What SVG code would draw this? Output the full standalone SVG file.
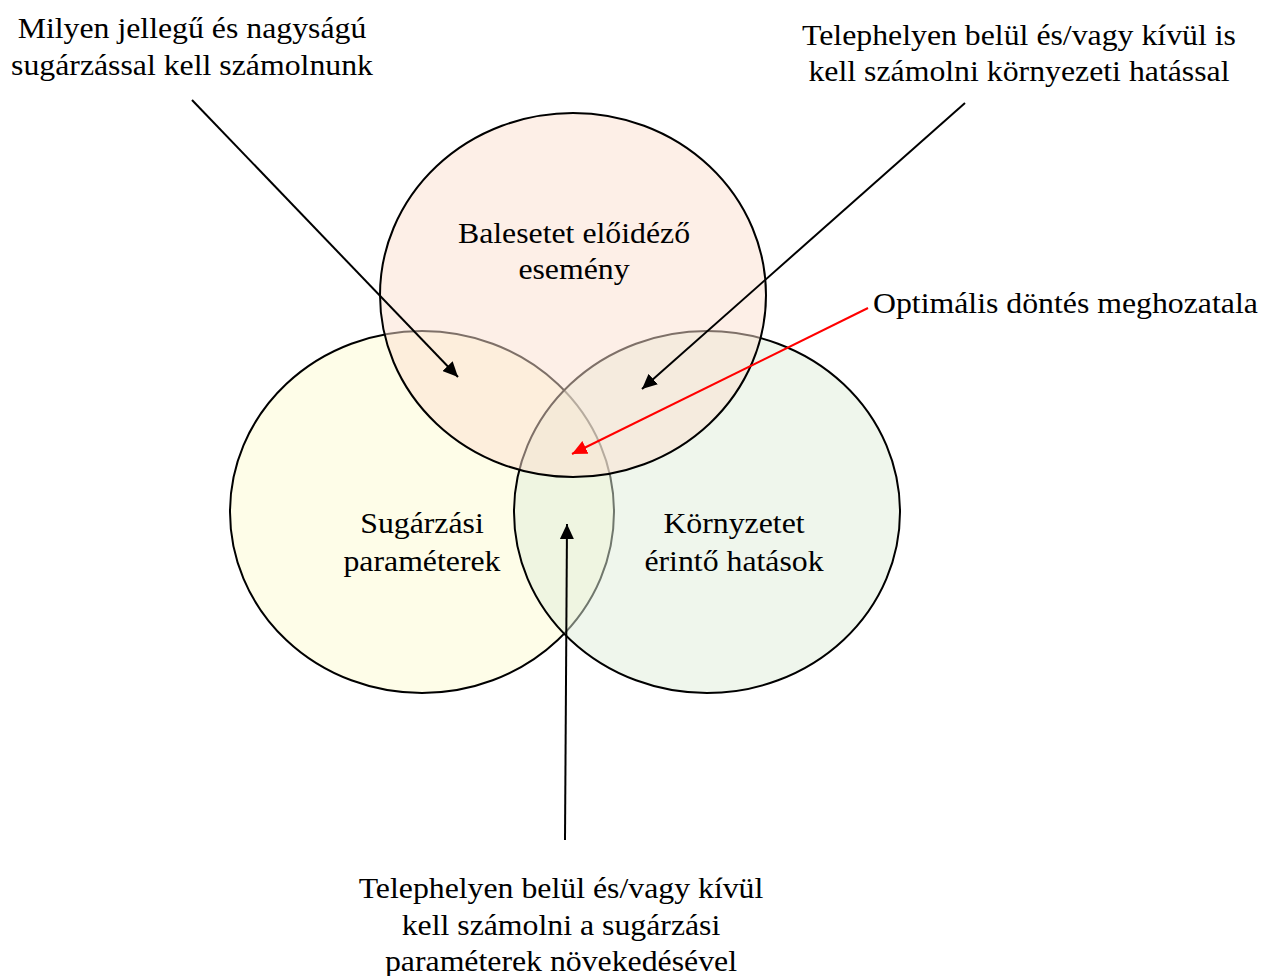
<svg xmlns="http://www.w3.org/2000/svg" width="1262" height="976" viewBox="0 0 1262 976">
<style>
.t{font-family:"Liberation Serif","Times New Roman",serif;font-size:31.8px;fill:#000;text-anchor:middle}
.c{stroke:#000;stroke-width:2;fill-opacity:0.5}
.a{stroke:#000;stroke-width:2;fill:none}
.r{stroke:#ff0000;stroke-width:2;fill:none}
</style>
<defs>
<marker id="ah" markerUnits="userSpaceOnUse" markerWidth="16" markerHeight="14" refX="15" refY="7" orient="auto"><path d="M0,0 L15,7 L0,14 z" fill="#000"/></marker>
<marker id="ahr" markerUnits="userSpaceOnUse" markerWidth="16" markerHeight="14" refX="15" refY="7" orient="auto"><path d="M0,0 L15,7 L0,14 z" fill="#ff0000"/></marker>
</defs>
<rect width="1262" height="976" fill="#fff"/>
<g id="node-sugarzasi">
<ellipse class="c" cx="422" cy="512" rx="192" ry="181" fill="#fefbd1"/>
</g>
<g id="node-kornyezet">
<ellipse class="c" cx="707" cy="512" rx="193" ry="181" fill="#dfeed9"/>
</g>
<g id="node-baleset">
<ellipse class="c" cx="573" cy="295" rx="193" ry="182" fill="#fbdfcf"/>
</g>
<g id="connectors">
<line class="a" x1="192" y1="100" x2="458" y2="377" marker-end="url(#ah)"/>
<line class="a" x1="965" y1="103" x2="642" y2="389" marker-end="url(#ah)"/>
<line class="r" x1="868" y1="308" x2="572" y2="454" marker-end="url(#ahr)"/>
<line class="a" x1="565" y1="840" x2="567" y2="524" marker-end="url(#ah)"/>
</g>
<g transform="scale(1,0.91)">
<g id="labels-inner">
<text class="t" x="574" y="267">Balesetet előidéző</text>
<text class="t" x="574" y="306.6">esemény</text>
<text class="t" x="422" y="585.7">Sugárzási</text>
<text class="t" x="422" y="627.5">paraméterek</text>
<text class="t" x="734" y="585.7">Környzetet</text>
<text class="t" x="734" y="627.5">érintő hatások</text>
</g>
<g id="label-topleft">
<text class="t" x="192" y="42">Milyen jellegű és nagyságú</text>
<text class="t" x="192" y="82.4">sugárzással kell számolnunk</text>
</g>
<g id="label-topright">
<text class="t" x="1019" y="49.5">Telephelyen belül és/vagy kívül is</text>
<text class="t" x="1019" y="89">kell számolni környezeti hatással</text>
</g>
<g id="label-optimal">
<text class="t" x="873" y="344" style="text-anchor:start">Optimális döntés meghozatala</text>
</g>
<g id="label-bottom">
<text class="t" x="561" y="986.8">Telephelyen belül és/vagy kívül</text>
<text class="t" x="561" y="1027.5">kell számolni a sugárzási</text>
<text class="t" x="561" y="1067">paraméterek növekedésével</text>
</g>
</g>
</svg>
